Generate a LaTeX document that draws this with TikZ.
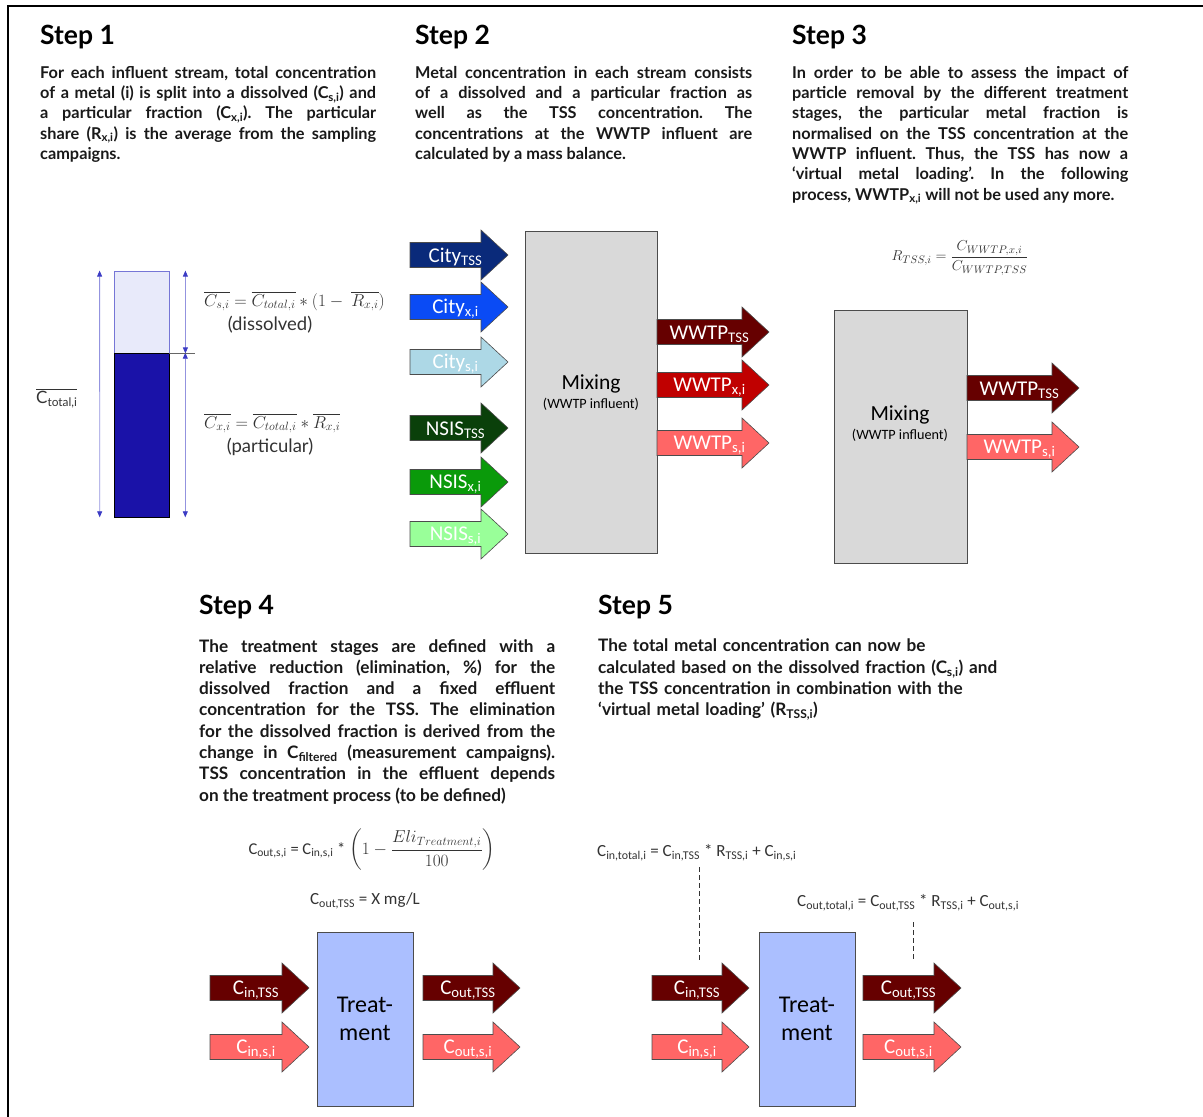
\documentclass[tikz,border=0pt]{standalone}
\usepackage{fontspec}
\usepackage{amsmath}
\usetikzlibrary{arrows.meta,positioning}
\setmainfont{Lato}
\newfontfamily\calfont{Carlito}
\frenchspacing
\definecolor{citytss}{HTML}{0A2A7A}
\definecolor{cityx}{HTML}{0A4BF5}
\definecolor{citys}{HTML}{ADD8E6}
\definecolor{nsistss}{HTML}{0A400A}
\definecolor{nsisx}{HTML}{0A9A0A}
\definecolor{nsiss}{HTML}{99FF99}
\definecolor{wwtptss}{HTML}{660000}
\definecolor{wwtpx}{HTML}{C00000}
\definecolor{wwtps}{HTML}{FF6666}
\definecolor{mixgray}{HTML}{D9D9D9}
\definecolor{treatblue}{HTML}{ABBFFF}
\definecolor{barlight}{HTML}{E8EAFA}
\definecolor{bardark}{HTML}{1A12A8}
\definecolor{barline}{HTML}{3B3BC4}
\definecolor{eqgray}{HTML}{333333}
\tikzset{head/.style={anchor=base west, inner sep=0pt, font=\fontsize{26.5}{30}\selectfont\bfseries}, para/.style={anchor=north west, inner sep=0pt, align=justify, text=black!90, font=\bfseries\fontsize{16.3}{20.3}\selectfont\frenchspacing}, flowlab/.style={text=white, inner sep=0pt, font=\calfont\fontsize{21}{24}\selectfont}, box/.style={draw=black!70, line width=.8pt, inner sep=0pt}, eq/.style={text=eqgray, inner sep=0pt, font=\fontsize{16.5}{19}\selectfont}, ceq/.style={text=eqgray, inner sep=0pt, font=\calfont\fontsize{17}{20}\selectfont}, sidelab/.style={text=eqgray, inner sep=0pt, font=\fontsize{18.5}{21}\selectfont}, dim/.style={{Triangle[length=6pt,width=5pt,color=barline]}-{Triangle[length=6pt,width=5pt,color=barline]}, draw=barline!55, line width=.8pt}, dashline/.style={dash pattern=on 5pt off 3pt, draw=black!80, line width=.8pt}}
\newcommand\flow[6]{\filldraw[fill=#5, draw=black!70, line width=.6pt] (#2,#3-12.5) -- ++(#4,0) -- ++(0,-12.5) -- ++(27,25) -- ++(-27,25) -- ++(0,-12.5) -- ++(-#4,0) -- cycle;
\node[flowlab] (#1) at (#2+#4/2+10,#3+2) {#6};}
\begin{document}
\begin{tikzpicture}[x=1pt,y=-1pt]
\useasboundingbox (0,0) rectangle (1203,1117);
\draw[line width=2.2pt] (8,1117) -- (8,6) -- (1203,6);
\node[head] (h1) at (40,44) {Step 1};
\node[head] (h2) at (415,44) {Step 2};
\node[head] (h3) at (792,44) {Step 3};
\node[head] (h4) at (199,614) {Step 4};
\node[head] (h5) at (598,614) {Step 5};
\node[para, text width=336pt] (t1) at (40,66) {For each influent stream, total concentration\linebreak of a metal (i) is split into a dissolved (C\textsubscript{s,i}) and\linebreak a particular fraction (C\textsubscript{x,i}). The particular\linebreak share (R\textsubscript{x,i}) is the average from the sampling\linebreak \mbox{campaigns.}};
\node[para, text width=337pt] (t2) at (415,66) {Metal concentration in each stream consists\linebreak of a dissolved and a particular fraction as\linebreak well as the TSS concentration. The\linebreak concentrations at the WWTP influent are\linebreak \mbox{calculated by a mass balance.}};
\node[para, text width=336pt] (t3) at (792,66) {In order to be able to assess the impact of\linebreak particle removal by the different treatment\linebreak stages, the particular metal fraction is\linebreak normalised on the TSS concentration at the\linebreak WWTP influent. Thus, the TSS has now a\linebreak ‘virtual metal loading’. In the following\linebreak \mbox{process, WWTP\textsubscript{x,i} will not be used any more.}};
\node[para, text width=356pt, font=\bfseries\fontsize{17.2}{21.3}\selectfont\frenchspacing] (t4) at (199,639) {The treatment stages are defined with a\linebreak relative reduction (elimination, \%) for the\linebreak dissolved fraction and a fixed effluent\linebreak concentration for the TSS. The elimination\linebreak for the dissolved fraction is derived from the\linebreak change in C\textsubscript{filtered} (measurement campaigns).\linebreak TSS concentration in the effluent depends\linebreak \mbox{on the treatment process (to be defined)}};
\node[para, text width=430pt, align=left, font=\bfseries\fontsize{17.2}{21.3}\selectfont\frenchspacing] (t5) at (598,639) {The total metal concentration can now be\\ calculated based on the dissolved fraction (C\textsubscript{s,i}) and\\ the TSS concentration in combination with the\\ ‘virtual metal loading’ (R\textsubscript{TSS,i})};
\node[draw=barline!70, fill=barlight, line width=.8pt, minimum width=55pt, minimum height=82pt, inner sep=0pt] (barlo) at (141.5,312) {};
\node[draw=black, fill=bardark, line width=.6pt, minimum width=55pt, minimum height=164pt, inner sep=0pt] (barhi) at (141.5,435) {};
\draw[dim] ([xshift=-14pt]barlo.north west) -- ([xshift=-14pt]barhi.south west);
\draw[dim] ([xshift=16pt]barlo.north east) -- ([xshift=16pt]barlo.south east);
\draw[dim] ([xshift=16pt]barhi.north east) -- ([xshift=16pt]barhi.south east);
\draw[black!60, line width=.5pt] (barlo.south east) -- ++(26,0);
\node[sidelab, anchor=west, font=\fontsize{17}{20}\selectfont] (ctot) at (36,398) {$\overline{\hbox{C\textsubscript{total,i}}}$};
\node[eq, anchor=west] (fs) at (204,301) {$\overline{C_{s,i}} = \overline{C_{total,i}} * (1-\ \overline{R_{x,i}})$};
\node[sidelab] (ldis) at (270,325) {(dissolved)};
\node[eq, anchor=west] (fx) at (204,423) {$\overline{C_{x,i}} = \overline{C_{total,i}} * \overline{R_{x,i}}$};
\node[sidelab] (lpar) at (270,447) {(particular)};
\node[box, fill=mixgray, minimum width=132pt, minimum height=322pt] (mix) at (591,392) {};
\node[font=\calfont\fontsize{21.5}{23}\selectfont, inner sep=0pt] (mixlab) at (591,384) {Mixing};
\node[font=\calfont\fontsize{14.2}{16}\selectfont, inner sep=0pt, below=4pt of mixlab] (mixsub) {(WWTP influent)};
\flow{ctss}{410}{255}{71}{citytss}{City\textsubscript{TSS}}
\flow{cx}{410}{307}{71}{cityx}{City\textsubscript{x,i}}
\flow{cs}{410}{362}{71}{citys}{City\textsubscript{s,i}}
\flow{ntss}{410}{428}{71}{nsistss}{NSIS\textsubscript{TSS}}
\flow{nx}{410}{482}{71}{nsisx}{NSIS\textsubscript{x,i}}
\flow{ns}{410}{534}{71}{nsiss}{NSIS\textsubscript{s,i}}
\flow{wtss}{657}{332}{85}{wwtptss}{WWTP\textsubscript{TSS}}
\flow{wx}{657}{385}{85}{wwtpx}{WWTP\textsubscript{x,i}}
\flow{ws}{657}{443}{85}{wwtps}{WWTP\textsubscript{s,i}}
\node[eq, font=\fontsize{15.5}{18}\selectfont] (frts) at (960,258) {$R_{TSS,i} = \dfrac{C_{WWTP,x,i}}{C_{WWTP,TSS}}$};
\node[box, fill=mixgray, minimum width=133pt, minimum height=253pt] (mixb) at (900.5,436.5) {};
\node[font=\calfont\fontsize{21.5}{23}\selectfont, inner sep=0pt] (mixblab) at (900,415) {Mixing};
\node[font=\calfont\fontsize{14.2}{16}\selectfont, inner sep=0pt, below=4pt of mixblab] (mixbsub) {(WWTP influent)};
\flow{wbtss}{967}{388}{85}{wwtptss}{WWTP\textsubscript{TSS}}
\flow{wbs}{967}{447}{85}{wwtps}{WWTP\textsubscript{s,i}}
\node[ceq, font=\calfont\fontsize{16.5}{20}\selectfont] (fout4) at (372,850) {C\textsubscript{out,s,i} = C\textsubscript{in,s,i} * $\left(1-\dfrac{Eli_{Treatment,i}}{100}\right)$};
\node[ceq] (ftss4) at (365,901) {C\textsubscript{out,TSS} = X mg/L};
\node[box, fill=treatblue, minimum width=96pt, minimum height=174pt] (tr4) at (365,1019) {};
\node[font=\calfont\fontsize{24}{28}\selectfont, align=center, inner sep=0pt] (tr4lab) at (365,1019) {Treat-\\ment};
\flow{in4tss}{210}{988}{72}{wwtptss}{C\textsubscript{in,TSS}}
\flow{in4s}{210}{1047}{72}{wwtps}{C\textsubscript{in,s,i}}
\flow{out4tss}{423}{988}{70}{wwtptss}{C\textsubscript{out,TSS}}
\flow{out4s}{423}{1047}{70}{wwtps}{C\textsubscript{out,s,i}}
\node[ceq, anchor=west] (fin5) at (597,853) {C\textsubscript{in,total,i} = C\textsubscript{in,TSS} * R\textsubscript{TSS,i} + C\textsubscript{in,s,i}};
\node[ceq, anchor=west] (fout5) at (797,903) {C\textsubscript{out,total,i} = C\textsubscript{out,TSS} * R\textsubscript{TSS,i} + C\textsubscript{out,s,i}};
\node[box, fill=treatblue, minimum width=96pt, minimum height=174pt] (tr5) at (807,1019) {};
\node[font=\calfont\fontsize{24}{28}\selectfont, align=center, inner sep=0pt] (tr5lab) at (807,1019) {Treat-\\ment};
\flow{in5tss}{652}{988}{70}{wwtptss}{C\textsubscript{in,TSS}}
\flow{in5s}{652}{1047}{70}{wwtps}{C\textsubscript{in,s,i}}
\flow{out5tss}{863}{988}{71}{wwtptss}{C\textsubscript{out,TSS}}
\flow{out5s}{863}{1047}{71}{wwtps}{C\textsubscript{out,s,i}}
\coordinate (d1) at (699,867);
\coordinate (d2) at (913,922);
\draw[dashline] (d1) -- (d1 |- 0,960);
\draw[dashline] (d2) -- (d2 |- 0,960);
\end{tikzpicture}
\end{document}
